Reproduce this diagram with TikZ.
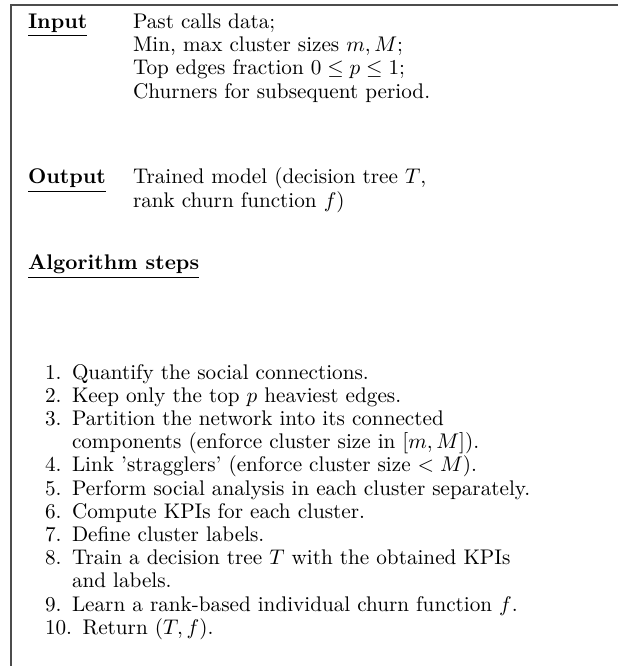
\documentclass[tikz,border=0pt]{standalone}
\usepackage{amssymb}
\begin{document}
\begin{tikzpicture}[x=0.517pt,y=-0.517pt,
  frameline/.style={draw=black!70,line width=0.8pt},
  txt/.style={anchor=base west,inner sep=0pt,outer sep=0pt,font=\fontsize{10.95}{13.6}\selectfont},
  num/.style={anchor=base east,inner sep=0pt,outer sep=0pt,font=\fontsize{10.95}{13.6}\selectfont}]
\useasboundingbox (0,0) rectangle (618,666);
% open frame: top and left rules only
\coordinate (tl) at (11,5);
\coordinate (tr) at (618,5);
\coordinate (bl) at (11,666);
\draw[frameline] (tr) -- (tl) -- (bl);

% Input block
\node[txt] (inlab) at (28,28.5) {\underline{\textbf{Input}}};
\node[txt] (in1) at (133,28.5) {Past calls data;};
\node[txt] (in2) at (133,51.7) {Min, max cluster sizes $m, M$;};
\node[txt] (in3) at (133,74.9) {Top edges fraction $0 \le p \le 1$;};
\node[txt] (in4) at (133,98.1) {Churners for subsequent period.};

% Output block
\node[txt] (outlab) at (28,184) {\underline{\textbf{Output}}};
\node[txt] (out1) at (133,184) {Trained model (decision tree $T$,};
\node[txt] (out2) at (133,207.2) {rank churn function $f$)};

% Steps: labels right-aligned, item text 0.5em after the label box
\node[txt] (steps) at (28,270) {\underline{\textbf{Algorithm steps}}};

\node[num] (n1) at (61.5,379) {1.};
\node[txt] (s1) at (72,379) {Quantify the social connections.};
\node[num] (n2) at (61.5,402.2) {2.};
\node[txt] (s2) at (72,402.2) {Keep only the top $p$ heaviest edges.};
\node[num] (n3) at (61.5,425.4) {3.};
\node[txt] (s3) at (72,425.4) {Partition the network into its connected};
\node[txt] (s3b) at (72,448.6) {components (enforce cluster size in $[m, M]$).};
\node[num] (n4) at (61.5,471.8) {4.};
\node[txt] (s4) at (72,471.8) {Link 'stragglers' (enforce cluster size $< M$).};
\node[num] (n5) at (61.5,495) {5.};
\node[txt] (s5) at (72,495) {Perform social analysis in each cluster separately.};
\node[num] (n6) at (61.5,518.2) {6.};
\node[txt] (s6) at (72,518.2) {Compute KPIs for each cluster.};
\node[num] (n7) at (61.5,541.4) {7.};
\node[txt] (s7) at (72,541.4) {Define cluster labels.};
\node[num] (n8) at (61.5,564.6) {8.};
\node[txt] (s8) at (72,564.6) {Train a decision tree $T$ with the obtained KPIs};
\node[txt] (s8b) at (72,587.8) {and labels.};
\node[num] (n9) at (61.5,611) {9.};
\node[txt] (s9) at (72,611) {Learn a rank-based individual churn function $f$.};
\node[txt] (n10) at (45,634.2) {10.};
\node[txt] (s10) at ([xshift=5.5pt]n10.base east) {Return $(T, f)$.};
\end{tikzpicture}
\end{document}
